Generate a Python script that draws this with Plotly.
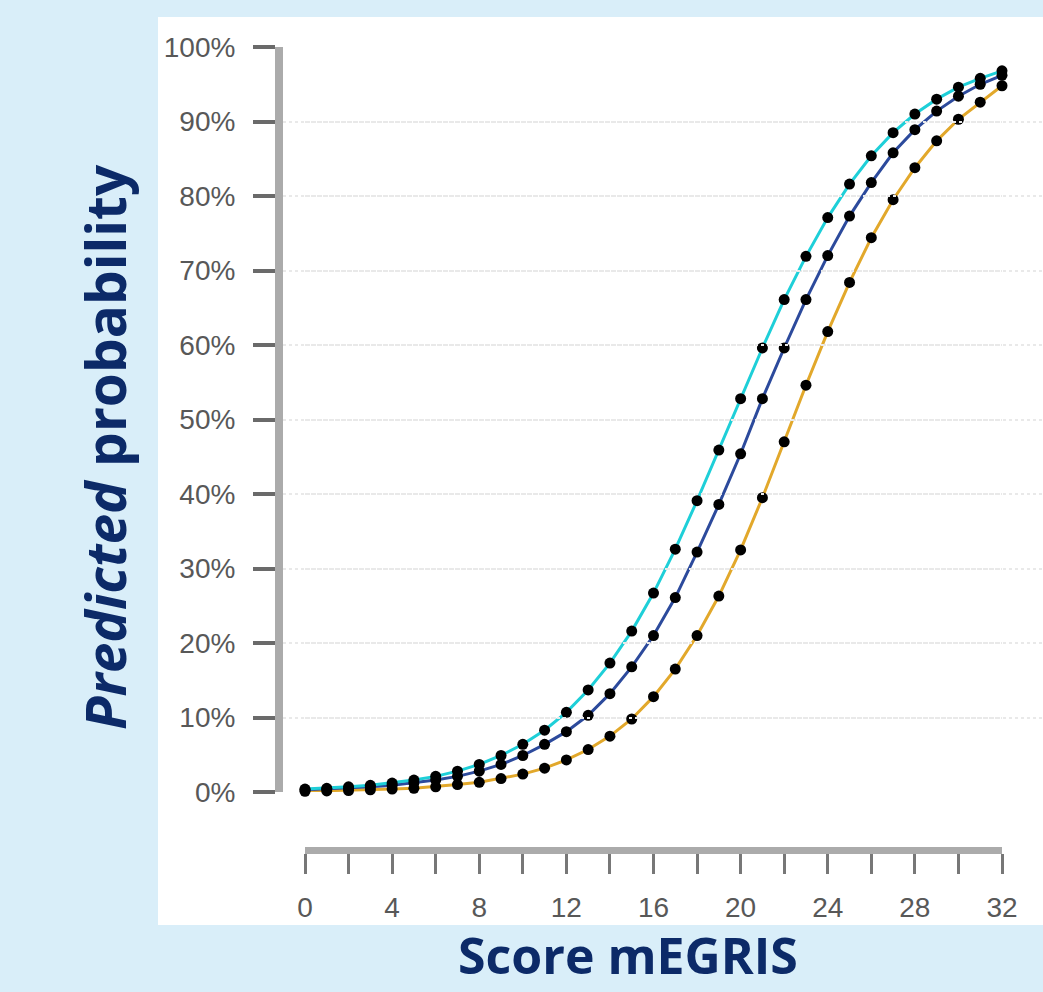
import plotly.graph_objects as go

# mEGRIS score (0-32) and predicted probability (%) for three groups
scores = list(range(33))
prob_cyan = [0.4, 0.5, 0.7, 0.9, 1.2, 1.6, 2.1, 2.8, 3.7, 4.9, 6.4, 8.3, 10.7, 13.7,
             17.3, 21.6, 26.7, 32.6, 39.1, 45.9, 52.8, 59.6, 66.1, 71.9, 77.1, 81.6,
             85.4, 88.5, 91.0, 93.0, 94.6, 95.8, 96.8]
prob_navy = [0.3, 0.4, 0.5, 0.7, 0.9, 1.2, 1.6, 2.1, 2.8, 3.7, 4.9, 6.4, 8.1, 10.3,
             13.2, 16.8, 21.0, 26.1, 32.2, 38.6, 45.4, 52.8, 59.6, 66.1, 72.0, 77.3,
             81.8, 85.8, 88.9, 91.4, 93.4, 95.0, 96.2]
prob_orange = [0.1, 0.15, 0.2, 0.3, 0.4, 0.5, 0.7, 1.0, 1.3, 1.8, 2.4, 3.2, 4.3, 5.7,
               7.5, 9.8, 12.8, 16.5, 21.0, 26.3, 32.5, 39.5, 47.0, 54.6, 61.8, 68.4,
               74.4, 79.5, 83.8, 87.4, 90.3, 92.6, 94.8]

# labelled score ticks every 4, unlabelled ticks in between
x_tickvals = list(range(0, 33, 4))
x_ticktext = [str(v) for v in x_tickvals]
x_minor_vals = list(range(2, 33, 4))
y_tickvals = list(range(0, 101, 10))
y_ticktext = [f"{v}%" for v in y_tickvals]

W, H = 1043, 992
L, R, T, B = 283, 0, 47, 142
plot_w = W - L - R
plot_h = H - T - B

def px_x(px):
    return (px - L) / plot_w

def px_y(py):
    return (H - B - py) / plot_h

NAVY_TEXT = "#0c2a68"
BG = "#d9eef9"
TICK_FONT = dict(family="Liberation Sans, Arial, sans-serif", size=28, color="#585858")

fig = go.Figure()

series = [
    (prob_orange, "#e2a82b"),
    (prob_navy, "#2c4a9c"),
    (prob_cyan, "#1ecfd8"),
]
for vals, col in series:
    fig.add_trace(go.Scatter(
        x=scores, y=vals, mode="lines",
        line=dict(color=col, width=3),
        cliponaxis=False, showlegend=False, hoverinfo="skip",
    ))
for vals, col in series:
    fig.add_trace(go.Scatter(
        x=scores, y=vals, mode="markers",
        marker=dict(color="black", size=11, symbol="circle"),
        cliponaxis=False, showlegend=False, hoverinfo="skip",
    ))

# carrier trace for the detached score axis
fig.add_trace(go.Scatter(x=[None], y=[None], xaxis="x2", yaxis="y",
                         showlegend=False, hoverinfo="skip"))

# score scale: x=0 at 305 px, x=32 at 1002 px
unit = (1002 - 305) / 32
x_lo = (L - 305) / unit
x_hi = (W - R - 305) / unit

fig.update_layout(
    width=W, height=H,
    margin=dict(l=L, r=R, t=T, b=B, autoexpand=False),
    paper_bgcolor=BG,
    plot_bgcolor="rgba(0,0,0,0)",
    font=dict(family="Liberation Sans, Arial, sans-serif", size=20, color="#585858"),
    xaxis=dict(range=[x_lo, x_hi], visible=False, domain=[0, 1], automargin=False),
    xaxis2=dict(
        range=[0, 32], domain=[px_x(305), px_x(1002)],
        anchor="free", position=0, automargin=False,
        tickmode="array", tickvals=x_tickvals, ticktext=x_ticktext,
        ticks="outside", ticklen=20, tickwidth=3, tickcolor="#777777",
        minor=dict(tickmode="array", tickvals=x_minor_vals, ticks="outside",
                   ticklen=20, tickwidth=3, tickcolor="#777777", showgrid=False),
        showline=True, linewidth=7, linecolor="#ababab",
        showgrid=False, zeroline=False,
        ticklabelstandoff=9,
        tickfont=TICK_FONT,
    ),
    yaxis=dict(
        range=[0, 100], domain=[px_y(792), 1], automargin=False,
        tickmode="array", tickvals=y_tickvals, ticktext=y_ticktext,
        ticks="outside", ticklen=22, tickwidth=4, tickcolor="#6a6a6a",
        showline=True, linewidth=8, linecolor="#ababab",
        showgrid=True, gridcolor="#e9e9e9", gridwidth=2, griddash="dot",
        zeroline=False,
        ticklabelstandoff=12,
        tickfont=TICK_FONT,
    ),
    shapes=[dict(
        type="rect", xref="paper", yref="paper", layer="below",
        x0=px_x(158), x1=1.0, y0=px_y(925), y1=px_y(17),
        fillcolor="white", line=dict(width=0),
    )],
    annotations=[
        dict(text="<i>Predicted</i> probability", xref="paper", yref="paper",
             x=px_x(104), y=px_y(447), textangle=-90,
             xanchor="center", yanchor="middle", showarrow=False,
             font=dict(family="Open Sans, sans-serif", size=55,
                       color=NAVY_TEXT, weight="bold")),
        dict(text="Score mEGRIS", xref="paper", yref="paper",
             x=px_x(628), y=px_y(991),
             xanchor="center", yanchor="bottom", showarrow=False,
             font=dict(family="Open Sans, sans-serif", size=50,
                       color=NAVY_TEXT, weight="bold")),
    ],
)

fig.write_html("out.html")
